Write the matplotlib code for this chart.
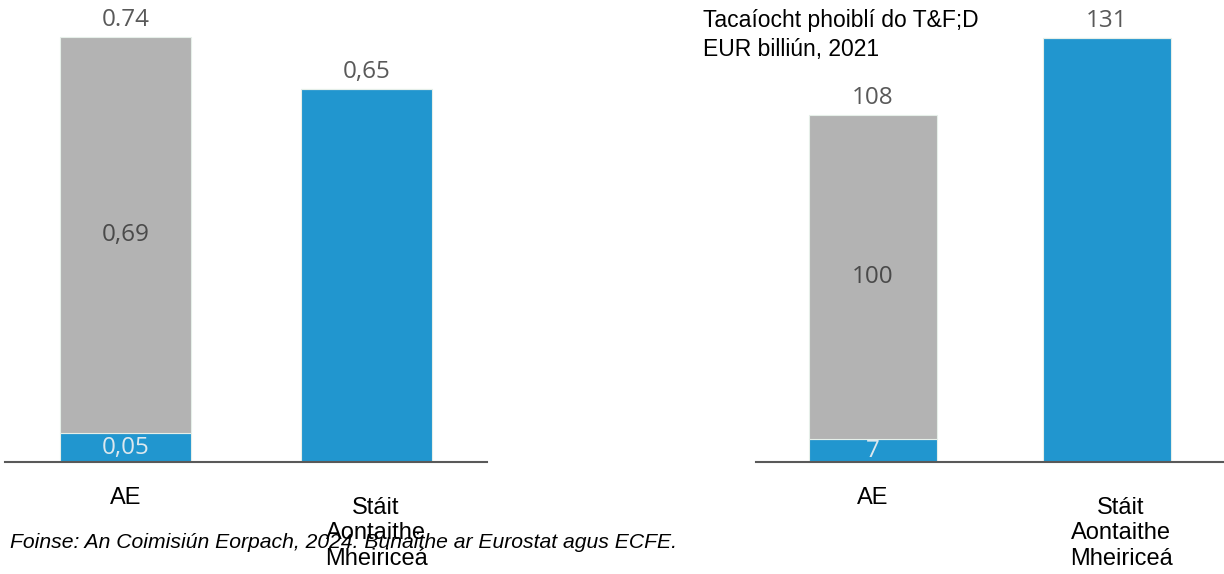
import matplotlib
matplotlib.use("Agg")
import matplotlib.pyplot as plt

# data
categories = ["AE", "Stáit\nAontaithe\nMheiriceá"]
left_blue = [0.05, 0.65]
left_gray = [0.69, 0.0]
left_total_labels = ["0.74", "0,65"]
left_inner_gray = ["0,69", None]
left_inner_blue = ["0,05", None]

right_blue = [7, 131]
right_gray = [100, 0]
right_total_labels = ["108", "131"]
right_inner_gray = ["100", None]
right_inner_blue = ["7", None]

title = "Tacaíocht phoiblí do T&F;D\nEUR billiún, 2021"
source = "Foinse: An Coimisiún Eorpach, 2024. Bunaithe ar Eurostat agus ECFE."

BLUE = "#2196CF"
GRAY = "#B3B3B3"
LBL = "#595959"
W, H = 1224, 574

fig = plt.figure(figsize=(W / 100, H / 100), dpi=100)

def panel(x0, x1, ylim_top, blue, gray, tot_labels, in_gray, in_blue, off, shift):
  ax = fig.add_axes([x0 / W, (H - 462) / H, (x1 - x0) / W, 462 / H])
  xs = range(len(categories))
  ax.bar(xs, blue, width=0.545, color=BLUE, edgecolor="#e6efe9", linewidth=0.8)
  ax.bar(xs, gray, width=0.545, bottom=blue, color=GRAY, edgecolor="#e6efe9", linewidth=0.8)
  ax.set_xlim(-0.5, 1.5)
  ax.set_ylim(0, ylim_top)
  for s in ["top", "right", "left"]:
    ax.spines[s].set_visible(False)
  ax.spines["bottom"].set_color("#595959")
  ax.spines["bottom"].set_linewidth(1.5)
  ax.set_xticks([])
  ax.set_yticks([])
  for i in xs:
    top = blue[i] + gray[i]
    ax.text(i, top + off, tot_labels[i], ha="center", va="center", color=LBL,
            fontsize=17.5, family="Open Sans")
    if in_gray[i]:
      ax.text(i, blue[i] + gray[i] / 2, in_gray[i], ha="center", va="center",
              color="#4a4a4a", fontsize=17.5, family="Open Sans")
    if in_blue[i]:
      ax.text(i, blue[i] / 2, in_blue[i], ha="center", va="center",
              color="#dde8ee", fontsize=17.5, family="Open Sans")
  tr = ax.get_xaxis_transform()
  ax.text(0, -25 / 462, categories[0], transform=tr, ha="center", va="top",
          fontsize=17, family="Liberation Sans")
  ax.text(1 + shift, -35 / 462, categories[1], transform=tr, ha="center", va="top",
          fontsize=17, family="Liberation Sans", linespacing=1.2)
  return ax

panel(5, 487, 462 / 574, left_blue, left_gray, left_total_labels,
      left_inner_gray, left_inner_blue, 17 / 574, 0.04)
panel(756, 1224, 462 / 3.24, right_blue, right_gray, right_total_labels,
      right_inner_gray, right_inner_blue, 17 / 3.24, 0.06)

fig.text(703 / W, 1 - 9 / H, title, ha="left", va="top", fontsize=16.5,
         family="Liberation Sans", linespacing=1.35)
fig.text(10 / W, 1 - 542 / H, source, ha="left", va="center", fontsize=15.2,
         family="Liberation Sans", style="italic")

fig.savefig("out.png", dpi=100)
